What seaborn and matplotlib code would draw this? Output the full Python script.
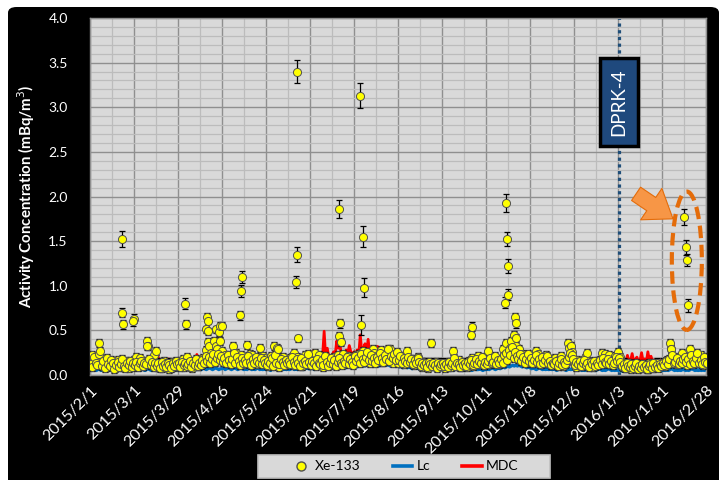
import numpy as np
import pandas as pd
import matplotlib
matplotlib.use("Agg")
import matplotlib.pyplot as plt
import matplotlib.dates as mdates
from matplotlib.patches import Ellipse, FancyBboxPatch, Rectangle
from matplotlib.lines import Line2D
from matplotlib.ticker import MultipleLocator, FormatStrFormatter, FixedLocator
import seaborn as sns

START = pd.Timestamp("2015-02-01")

# Xe-133 routine samples (first sample of each day, from 2015/2/1)
xe_a = [
    .18, .22, .15, .12, .20, .16, .36, .14, .10, .18, .13, .09, .15, .12,
    .10, .14, .08, .12, .17, .11, .15, .09, .13, .16, .10, .08, .14, .12,
    .17, .20, .14, .11, .19, .13, .10, .16, .38, .32, .15, .12, .18, .22,
    .27, .09, .14, .11, .08, .16, .13, .10, .07, .12, .15, .09, .11, .14,
    .10, .16, .12, .18, .09, .14, .20, .11, .13, .08, .15, .12, .17, .10,
    .14, .12, .19, .16, .28, .37, .32, .25, .20, .38, .33, .29, .22, .38,
    .27, .18, .22, .16, .20, .14, .19, .32, .19, .25, .13, .17, .22, .15,
    .12, .18, .34, .20, .24, .22, .14, .19, .12, .17, .30, .15, .21, .19,
    .13, .10, .16, .21, .12, .33, .18, .30, .09, .17, .13, .20, .11, .15,
    .12, .19, .14, .11, .25, .16, .20, .13, .17, .10, .15, .22, .12, .18,
    .14, .11, .18, .25, .13, .16, .22, .12, .09, .15, .19, .13, .11, .17,
    .15, .20, .13, .18, .22, .16, .19, .24, .14, .17, .21, .15, .19, .13,
    .18, .22, .16, .24, .19, .15, .27, .21, .17, .23, .14, .20, .29, .25,
    .16, .22, .19, .28, .15, .21, .18, .24, .17, .29, .20, .14, .23, .18,
    .13, .17, .21, .15, .12, .19, .27, .16, .14, .18, .11, .16, .13, .20,
    .12, .09, .15, .11, .14, .08, .13, .36, .10, .12, .15, .09, .11, .14,
    .10, .13, .08, .11, .12, .15, .09, .27, .14, .10, .13, .17, .09, .12,
    .11, .14, .09, .16, .12, .19, .10, .13, .15, .21, .12, .14, .17, .11,
    .14, .27, .12, .18, .16, .13, .19, .15, .12, .17, .14, .29, .20, .36,
    .24, .30, .38, .27, .45, .33, .25, .29, .20, .23, .17, .21, .15, .19,
    .16, .21, .14, .19, .27, .23, .17, .12, .20, .16, .22, .14, .18, .13,
    .11, .15, .19, .12, .17, .13, .21, .10, .16, .14, .36, .30, .32, .26,
    .14, .09, .17, .11, .16, .10, .13, .19, .25, .12, .10, .14, .09, .13,
    .11, .16, .13, .15, .25, .19, .24, .14, .22, .12, .17, .15, .21, .13,
    .26, .20, .12, .09, .14, .08, .11, .13, .07, .10, .12, .08, .11, .09,
    .10, .08, .12, .09, .11, .07, .13, .10, .08, .12, .09, .14, .10, .11,
    .12, .15, .10, .17, .13, .36, .29, .14, .18, .12, .20, .15, .17, .25,
    .13, .17, .11, .20, .29, .19, .12, .16, .20, .13, .18, .22, .11, .16,
    .18,
]

# Xe-133 routine samples (second sample of each day)
xe_b = [
    .12, .09, .20, .14, .11, .24, .27, .10, .16, .08, .19, .12, .10, .17,
    .13, .07, .11, .15, .09, .12, .18, .10, .08, .14, .11, .16, .09, .13,
    .11, .15, .09, .13, .16, .10, .14, .12, .32, .18, .11, .15, .09, .14,
    .10, .13, .08, .15, .10, .12, .09, .14, .11, .08, .13, .10, .16, .12,
    .13, .09, .15, .11, .14, .10, .12, .16, .09, .13, .11, .18, .10, .14,
    .11, .17, .13, .21, .16, .20, .14, .18, .23, .15, .19, .24, .17, .21,
    .15, .19, .13, .22, .17, .12, .18, .25, .14, .20, .16, .11, .19, .14,
    .17, .13, .21, .15, .11, .18, .14, .20, .16, .13, .19, .12, .17, .14,
    .11, .16, .13, .19, .10, .22, .14, .29, .12, .18, .15, .11, .17, .13,
    .16, .12, .20, .15, .11, .18, .14, .10, .19, .13, .16, .12, .24, .15,
    .11, .16, .13, .10, .18, .14, .12, .17, .11, .21, .15, .10, .14, .19,
    .12, .17, .10, .15, .19, .13, .11, .16, .14, .20, .12, .18, .15, .11,
    .21, .16, .19, .13, .23, .18, .15, .20, .26, .17, .22, .16, .19, .14,
    .20, .17, .25, .19, .15, .22, .18, .29, .16, .21, .19, .24, .17, .26,
    .17, .21, .14, .19, .16, .13, .20, .15, .18, .12, .17, .14, .19, .15,
    .10, .14, .11, .13, .09, .15, .12, .10, .14, .11, .08, .13, .10, .12,
    .14, .10, .12, .09, .15, .11, .13, .19, .10, .14, .12, .09, .15, .11,
    .13, .10, .15, .12, .17, .11, .14, .18, .12, .16, .13, .20, .11, .15,
    .12, .16, .19, .13, .15, .21, .12, .17, .14, .18, .13, .22, .25, .17,
    .28, .22, .31, .19, .26, .21, .18, .24, .16, .20, .14, .18, .23, .16,
    .19, .13, .17, .22, .15, .18, .12, .20, .14, .17, .21, .13, .16, .11,
    .14, .12, .16, .10, .13, .18, .11, .15, .12, .17, .20, .25, .22, .18,
    .11, .15, .12, .16, .10, .13, .17, .11, .14, .09, .15, .12, .16, .10,
    .14, .11, .17, .12, .19, .15, .13, .18, .12, .16, .11, .14, .20, .16,
    .19, .15, .10, .12, .08, .13, .10, .09, .12, .08, .10, .13, .07, .10,
    .08, .12, .09, .11, .07, .10, .12, .08, .13, .09, .11, .08, .12, .10,
    .14, .11, .16, .12, .18, .29, .22, .13, .15, .19, .12, .16, .14, .18,
    .20, .15, .18, .12, .22, .16, .13, .19, .25, .14, .17, .12, .20, .15,
    .14,
]

# Critical level (Lc), daily
lc = [
    .06, .05, .07, .06, .05, .06, .07, .05, .06, .05, .06, .07, .05, .06,
    .05, .06, .05, .07, .06, .05, .06, .05, .06, .07, .05, .06, .05, .06,
    .06, .07, .05, .06, .05, .07, .06, .05, .06, .07, .06, .05, .06, .07,
    .05, .06, .05, .06, .07, .05, .06, .05, .06, .05, .07, .06, .05, .06,
    .06, .05, .07, .06, .05, .06, .07, .06, .05, .06, .07, .06, .06, .07,
    .07, .06, .08, .07, .06, .07, .08, .07, .06, .07, .08, .07, .06, .07,
    .07, .08, .06, .07, .08, .07, .06, .07, .08, .07, .06, .07, .08, .07,
    .06, .07, .06, .08, .07, .06, .07, .06, .07, .08, .06, .07, .06, .07,
    .06, .07, .06, .05, .07, .06, .07, .06, .05, .06, .07, .06, .07, .06,
    .07, .06, .07, .08, .06, .07, .06, .07, .08, .07, .06, .07, .08, .07,
    .07, .08, .07, .06, .08, .07, .08, .07, .08, .09, .07, .08, .07, .08,
    .08, .09, .08, .10, .09, .08, .09, .10, .09, .08, .10, .09, .10, .09,
    .10, .11, .09, .12, .10, .11, .12, .10, .11, .12, .11, .10, .12, .11,
    .11, .12, .10, .11, .12, .11, .13, .11, .12, .10, .11, .12, .10, .11,
    .10, .09, .10, .08, .09, .10, .08, .09, .08, .07, .08, .09, .08, .07,
    .07, .06, .07, .06, .07, .06, .05, .06, .07, .06, .05, .06, .07, .06,
    .06, .07, .06, .05, .06, .07, .06, .05, .06, .07, .06, .07, .06, .05,
    .06, .05, .06, .07, .06, .05, .06, .07, .06, .06, .07, .06, .05, .06,
    .06, .07, .06, .07, .08, .07, .06, .07, .08, .07, .08, .09, .08, .09,
    .10, .09, .10, .11, .10, .11, .10, .11, .10, .09, .10, .09, .08, .09,
    .08, .07, .08, .07, .06, .07, .08, .07, .06, .07, .06, .07, .06, .07,
    .06, .07, .06, .05, .06, .07, .06, .07, .06, .05, .06, .07, .06, .07,
    .06, .05, .06, .07, .06, .05, .06, .05, .06, .07, .06, .05, .06, .05,
    .05, .06, .07, .06, .05, .06, .05, .06, .07, .06, .05, .06, .05, .06,
    .05, .06, .05, .04, .05, .06, .05, .04, .05, .06, .05, .04, .05, .06,
    .05, .04, .05, .06, .05, .04, .05, .06, .05, .04, .05, .06, .05, .04,
    .05, .06, .05, .06, .05, .06, .07, .06, .05, .06, .05, .06, .05, .06,
    .06, .05, .06, .05, .06, .07, .06, .05, .06, .05, .06, .05, .06, .05,
    .06,
]

# Minimum detectable concentration (MDC), daily
mdc = [
    .14, .16, .13, .15, .17, .14, .16, .13, .15, .14, .16, .13, .15, .14,
    .13, .15, .14, .16, .13, .15, .14, .13, .16, .14, .15, .13, .14, .16,
    .15, .14, .16, .13, .15, .17, .14, .16, .15, .14, .16, .15, .17, .14,
    .15, .23, .16, .14, .17, .15, .16, .14, .18, .15, .16, .14, .17, .15,
    .16, .14, .17, .15, .16, .18, .15, .17, .16, .14, .17, .15, .23, .16,
    .15, .17, .16, .18, .15, .17, .16, .15, .18, .16, .17, .15, .16, .18,
    .16, .17, .15, .18, .16, .17, .15, .17, .16, .20, .17, .16, .18, .15,
    .17, .16, .20, .15, .17, .16, .18, .15, .17, .16, .15, .18, .16, .17,
    .15, .17, .16, .14, .17, .15, .16, .18, .15, .17, .16, .15, .17, .16,
    .16, .18, .15, .17, .16, .19, .17, .16, .18, .17, .16, .19, .18, .17,
    .18, .17, .27, .18, .20, .18, .19, .24, .21, .49, .19, .30, .20, .18,
    .21, .26, .22, .38, .30, .36, .20, .25, .21, .28, .24, .33, .26, .22,
    .26, .20, .28, .22, .45, .24, .30, .35, .25, .40, .23, .30, .22, .25,
    .21, .32, .20, .23, .22, .19, .29, .21, .20, .25, .21, .19, .17, .20,
    .18, .17, .19, .16, .18, .17, .16, .18, .17, .15, .17, .16, .18, .15,
    .16, .15, .17, .14, .16, .15, .14, .16, .15, .14, .16, .15, .14, .16,
    .15, .14, .16, .15, .14, .17, .15, .14, .16, .15, .14, .16, .15, .17,
    .16, .15, .17, .16, .15, .18, .16, .15, .17, .16, .18, .17, .16, .18,
    .17, .18, .16, .19, .17, .18, .20, .17, .19, .18, .17, .20, .18, .19,
    .17, .19, .18, .16, .18, .17, .19, .17, .18, .16, .17, .19, .18, .17,
    .16, .18, .17, .15, .17, .16, .18, .16, .17, .15, .16, .18, .17, .16,
    .15, .17, .16, .14, .16, .15, .17, .15, .16, .14, .16, .15, .17, .15,
    .14, .16, .15, .13, .15, .14, .16, .14, .15, .13, .15, .14, .16, .14,
    .15, .14, .16, .15, .14, .16, .15, .14, .16, .15, .14, .16, .15, .14,
    .16, .15, .14, .17, .15, .14, .22, .15, .16, .24, .15, .17, .20, .15,
    .16, .25, .15, .18, .14, .26, .16, .21, .15, .17, .15, .16, .14, .16,
    .15, .14, .16, .15, .14, .16, .15, .14, .16, .15, .14, .16, .15, .14,
    .16, .15, .14, .16, .15, .14, .16, .15, .14, .16, .15, .14, .16, .15,
    .15,
]

# Elevated Xe-133 detections: day offset from 2015/2/1, value, 1-sigma error
peak_day = [20.4, 20.2, 21.2, 27.8, 27.6, 60.5, 60.9,
            74.5, 75.0, 74.0, 75.2, 80.0, 82.0, 82.7, 83.8,
            96.5, 95.9, 95.5,
            131.5, 131.8, 131.4, 132.6,
            158.3, 159.0, 158.6, 159.7,
            172.0, 173.9, 174.4, 172.5,
            243.0, 242.4,
            264.8, 265.4, 266.0, 266.3, 264.3, 270.5, 271.0, 271.2,
            378.3, 379.4, 379.8, 380.4]
peak_val = [1.52, 0.70, 0.57, 0.63, 0.60, 0.80, 0.57,
            0.65, 0.61, 0.51, 0.49, 0.51, 0.48, 0.55, 0.55,
            1.10, 0.94, 0.67,
            3.40, 1.35, 1.04, 0.41,
            1.86, 0.58, 0.44, 0.37,
            3.13, 1.55, 0.98, 0.56,
            0.54, 0.45,
            1.93, 1.52, 1.22, 0.90, 0.81, 0.65, 0.58, 0.42,
            1.77, 1.43, 1.29, 0.78]
peak_err = [0.09, 0.05, 0.05, 0.05, 0.05, 0.06, 0.05,
            0.04, 0.04, 0.04, 0.04, 0.04, 0.04, 0.04, 0.04,
            0.07, 0.07, 0.05,
            0.13, 0.08, 0.07, 0.04,
            0.10, 0.05, 0.04, 0.04,
            0.14, 0.12, 0.11, 0.11,
            0.05, 0.05,
            0.10, 0.08, 0.08, 0.06, 0.06, 0.05, 0.05, 0.04,
            0.09, 0.08, 0.07, 0.07]
routine_err = 0.045

tick_labels = ["2015/2/1", "2015/3/1", "2015/3/29", "2015/4/26", "2015/5/24",
               "2015/6/21", "2015/7/19", "2015/8/16", "2015/9/13", "2015/10/11",
               "2015/11/8", "2015/12/6", "2016/1/3", "2016/1/31", "2016/2/28"]
event_date = "2016-01-03 12:00"
event_label = "DPRK-4"

# ---------------------------------------------------------------------------
n = len(xe_a)
dates_a = START + pd.to_timedelta(np.arange(n), unit="D")
dates_b = START + pd.to_timedelta(np.arange(n) + 0.5, unit="D")
peak_dates = START + pd.to_timedelta(np.array(peak_day), unit="D")

xe_df = pd.DataFrame({
    "date": list(dates_a) + list(dates_b) + list(peak_dates),
    "value": xe_a + xe_b + peak_val,
    "err": [routine_err] * (2 * n) + peak_err,
})
line_df = pd.DataFrame({"date": dates_a, "Lc": lc, "MDC": mdc})

plt.rcParams["font.family"] = ["Lato", "DejaVu Sans"]

W, H = 725, 480
fig = plt.figure(figsize=(W / 100, H / 100), dpi=100, facecolor="white")
fig.add_artist(FancyBboxPatch((8 / W, -0.02), 711 / W, 473 / H + 0.02,
                              boxstyle="round,pad=0,rounding_size=0.012",
                              transform=fig.transFigure, fc="black", ec="none",
                              zorder=-10))

ax = fig.add_axes([90 / W, 1 - 375 / H, 616 / W, 357 / H])
ax.set_facecolor("#d9d9d9")
ax.set_axisbelow(True)

sns.lineplot(data=line_df, x="date", y="Lc", color="#0070C0", lw=2.3,
             estimator=None, ax=ax, zorder=2, legend=False)
sns.lineplot(data=line_df, x="date", y="MDC", color="#FF0000", lw=2.0,
             estimator=None, ax=ax, zorder=2.1, legend=False)
ax.errorbar(xe_df["date"], xe_df["value"], yerr=xe_df["err"], fmt="none",
            ecolor="black", elinewidth=0.9, capsize=2.2, capthick=0.9, zorder=3)
sns.scatterplot(data=xe_df, x="date", y="value", color="#FFFF00",
                edgecolor="#505050", linewidth=0.7, s=34, ax=ax, zorder=4,
                legend=False)

# event marker
ev = pd.Timestamp(event_date)
ax.axvline(ev, color="#1F4E79", lw=2.3, linestyle=(0, (1, 1.1)), zorder=1.8)
ax.text(ev, 3.06, event_label, rotation=90, color="white", fontsize=13.5,
        ha="center", va="center", zorder=6,
        bbox=dict(boxstyle="square,pad=0.55", fc="#1F497D", ec="black", lw=2.5))

# highlight of the post-event detections
c_date = mdates.date2num(START + pd.Timedelta(days=379.8))
ax.add_patch(Ellipse((c_date, 1.28), 19.1, 1.55, fill=False, ec="#E46C0A",
                     lw=3, linestyle=(0, (3, 1.6)), zorder=5))
ax.annotate("", xy=(START + pd.Timedelta(days=371), 1.75),
            xytext=(START + pd.Timedelta(days=347.5), 2.03),
            arrowprops=dict(arrowstyle="simple,head_length=0.9,head_width=1.3,tail_width=0.55",
                            mutation_scale=21, fc="#F79646", ec="#E46C0A", lw=0.8,
                            shrinkA=0, shrinkB=0),
            zorder=6)

# axes
tick_dates = pd.to_datetime(tick_labels, format="%Y/%m/%d")
ax.set_xlim(tick_dates[0], tick_dates[-1])
ax.set_ylim(0, 4.0)
ax.set_xticks(tick_dates)
ax.set_xticklabels(tick_labels, rotation=45, ha="right", rotation_mode="anchor",
                   fontsize=11.5, color="white")
minor_x = [mdates.date2num(d + pd.Timedelta(days=14)) for d in tick_dates[:-1]]
ax.xaxis.set_minor_locator(FixedLocator(minor_x))
ax.yaxis.set_major_locator(MultipleLocator(0.5))
ax.yaxis.set_minor_locator(MultipleLocator(0.1))
ax.yaxis.set_major_formatter(FormatStrFormatter("%.1f"))
ax.tick_params(axis="x", which="both", length=0, pad=6)
ax.tick_params(axis="y", which="both", length=0, pad=16, labelsize=10,
               labelcolor="white")
ax.grid(which="major", color="#8f8f8f", lw=1.0)
ax.grid(which="minor", color="#bcbcbc", lw=0.9)
for s in ax.spines.values():
    s.set_color("#8f8f8f")
    s.set_linewidth(1.0)
ax.set_xlabel("")
ax.set_ylabel("Activity Concentration (mBq/m$^3$)", color="white",
              fontsize=10.8, fontweight="bold")
ax.yaxis.set_label_coords(-53 / 616, 0.5)

# legend box and entries
fig.add_artist(Rectangle((258 / W, 1 - 478 / H), 292 / W, 23 / H,
                         transform=fig.transFigure, fc="#d9d9d9", ec="#bfbfbf",
                         lw=1.2, zorder=5))
handles = [Line2D([], [], marker="o", ls="none", mfc="#FFFF00", mec="#505050", ms=6.5),
           Line2D([], [], color="#0070C0", lw=2.6),
           Line2D([], [], color="#FF0000", lw=2.6)]
leg = fig.legend(handles, ["Xe-133", "Lc", "MDC"], loc="center",
                 bbox_to_anchor=(405 / W, 1 - 466.5 / H), ncol=3,
                 frameon=False, fontsize=10, handlelength=1.4,
                 columnspacing=2.3, handletextpad=0.3, borderaxespad=0,
                 borderpad=0)
leg.set_zorder(6)

fig.savefig("out.png", dpi=100, facecolor=fig.get_facecolor())
